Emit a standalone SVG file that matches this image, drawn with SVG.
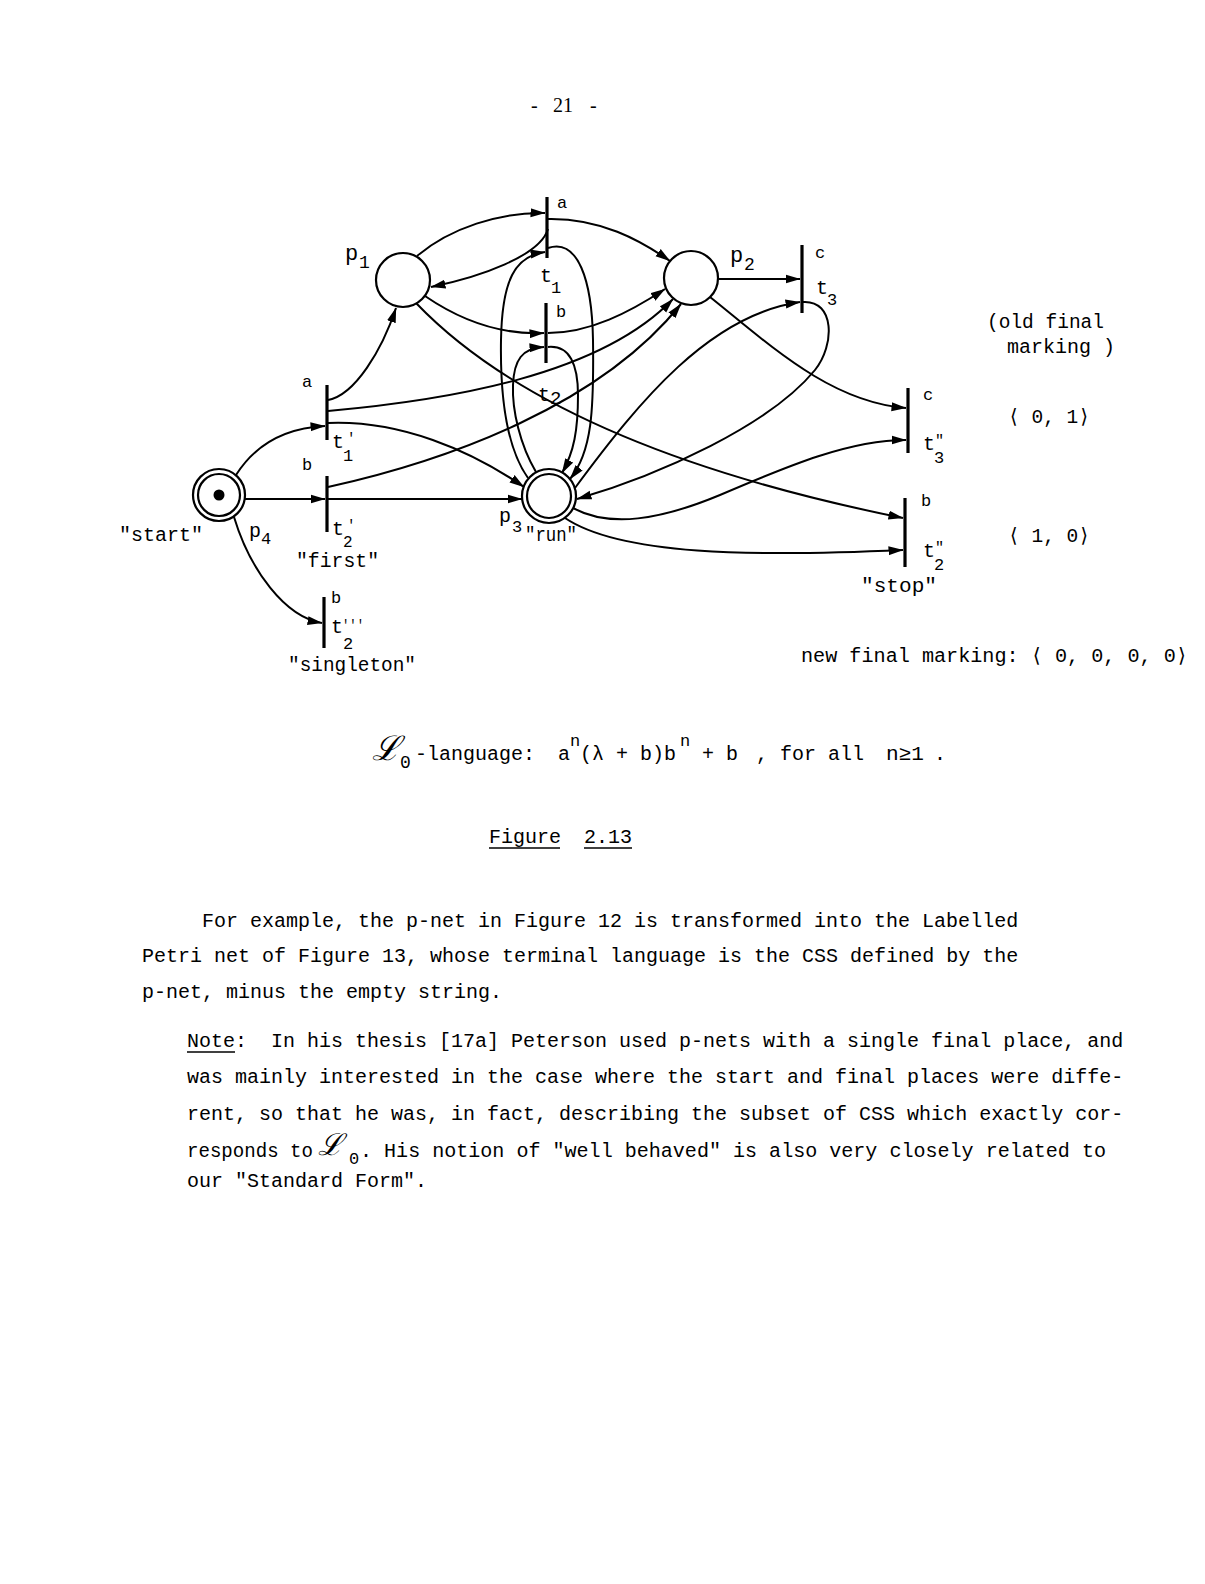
<svg xmlns="http://www.w3.org/2000/svg" width="1205" height="1584" viewBox="0 0 1205 1584">
<defs>
<marker id="ah" viewBox="0 0 15 10" refX="14.5" refY="5" markerWidth="15" markerHeight="10" markerUnits="userSpaceOnUse" orient="auto">
<path d="M0,0.5 L15,5 L0,9.5 z" fill="#000"/>
</marker>
<style>
.pl{fill:none;stroke:#000;stroke-width:2.2}
.tr{stroke:#000;stroke-width:3.2}
.c path{fill:none;stroke:#000;stroke-width:2;marker-end:url(#ah)}
text{font-family:"Liberation Mono","DejaVu Sans Mono",monospace;fill:#000}
.lb{font-size:17px}
.tl{font-size:20px}
.q{font-size:20px}
.body{font-size:20px}
.ser{font-family:"Liberation Serif","DejaVu Serif",serif;font-size:20px}
.scr{font-family:"DejaVu Serif","Liberation Serif",serif;font-style:italic;font-size:34px}
</style>
</defs>
<rect width="1205" height="1584" fill="#fff"/>

<g id="page-number">
<text class="ser" x="531" y="112">-</text>
<text class="ser" x="553" y="112">21</text>
<text class="ser" x="590" y="112">-</text>
</g>

<g id="connectors" class="c">
<path d="M236,475 C255,445 285,428 325,426"/>
<path d="M245,499 L325,499"/>
<path d="M234,517 C250,570 285,617 322,623"/>
<path d="M328,400 C355,395 382,350 396,308"/>
<path d="M328,411 C450,400 600,375 673,299"/>
<path d="M328,423 C400,420 470,450 524,487"/>
<path d="M328,499 L522,499"/>
<path d="M328,487 C450,460 600,405 681,304"/>
<path d="M417,256 C450,228 500,212 545,213"/>
<path d="M548,229 C540,256 480,277 431,287"/>
<path d="M548,219 C600,218 640,240 670,261"/>
<path d="M425,296 C460,320 500,335 544,333"/>
<path d="M548,333 C590,333 630,312 665,289"/>
<path d="M416,303 Q555,448 903,518"/>
<path d="M528,478 C508,450 500,400 501,340 C502,280 515,256 545,252"/>
<path d="M548,248 C578,238 592,280 593,340 C594,410 592,452 570,479"/>
<path d="M536,472 C520,445 512,410 513,385 C514,360 522,348 544,347"/>
<path d="M548,347 C570,345 578,365 578,395 C578,430 574,452 562,473"/>
<path d="M719,279 L800,279"/>
<path d="M575,488 C640,400 710,315 800,302"/>
<path d="M803,302 C835,300 835,345 815,370 C770,425 660,475 577,499"/>
<path d="M710,297 C770,345 830,402 906,408"/>
<path d="M573,508 C610,528 660,520 720,495 C790,465 850,440 906,440"/>
<path d="M565,518 C620,555 750,557 903,550"/>
</g>

<g id="p1">
<circle class="pl" cx="403" cy="280" r="27"/>
<text x="345" y="260" style="font-size:22px">p<tspan x="359" y="268" style="font-size:18px">1</tspan></text>
</g>
<g id="p2">
<circle class="pl" cx="691" cy="278" r="27"/>
<text x="730" y="262" style="font-size:22px">p<tspan x="744" y="270" style="font-size:18px">2</tspan></text>
</g>
<g id="p3">
<circle class="pl" cx="549" cy="496" r="27"/>
<circle class="pl" cx="549" cy="496" r="22"/>
<text class="tl" x="499" y="522">p<tspan x="512" y="532" style="font-size:17px">3</tspan></text>
<text class="q" x="525" y="541" textLength="52" lengthAdjust="spacingAndGlyphs">"run"</text>
</g>
<g id="p4">
<circle class="pl" cx="219" cy="495" r="26"/>
<circle class="pl" cx="219" cy="495" r="21"/>
<circle cx="219" cy="495" r="5.5" fill="#000"/>
<text class="tl" x="249" y="537">p<tspan x="261" y="544" style="font-size:17px">4</tspan></text>
<text class="q" x="119" y="541" textLength="84" lengthAdjust="spacingAndGlyphs">"start"</text>
</g>

<g id="t1">
<line class="tr" x1="547" y1="197" x2="547" y2="258"/>
<text class="lb" x="557" y="208">a</text>
<text class="tl" x="540" y="282">t<tspan x="551" y="293" style="font-size:17px">1</tspan></text>
</g>
<g id="t2">
<line class="tr" x1="546" y1="303" x2="546" y2="363"/>
<text class="lb" x="556" y="317">b</text>
<text class="tl" x="538" y="401">t<tspan x="550" y="404" style="font-size:19px">2</tspan></text>
</g>
<g id="t3">
<line class="tr" x1="802" y1="245" x2="802" y2="313"/>
<text class="lb" x="815" y="258">c</text>
<text class="tl" x="816" y="294">t<tspan x="827" y="305" style="font-size:17px">3</tspan></text>
</g>
<g id="t1p">
<line class="tr" x1="327" y1="385" x2="327" y2="440"/>
<text class="lb" x="302" y="387">a</text>
<text class="tl" x="332" y="448">t<tspan x="347" y="443" style="font-size:14px">'</tspan><tspan x="343" y="461" style="font-size:17px">1</tspan></text>
</g>
<g id="t2p">
<line class="tr" x1="327" y1="476" x2="327" y2="532"/>
<text class="lb" x="302" y="470">b</text>
<text class="tl" x="332" y="535">t<tspan x="347" y="530" style="font-size:14px">'</tspan><tspan x="343" y="547" style="font-size:16px">2</tspan></text>
<text class="q" x="296" y="567" textLength="83" lengthAdjust="spacingAndGlyphs">"first"</text>
</g>
<g id="t2ppp">
<line class="tr" x1="324" y1="597" x2="324" y2="648"/>
<text class="lb" x="331" y="603">b</text>
<text class="tl" x="331" y="633">t<tspan x="342" y="630" style="font-size:14px" textLength="22" lengthAdjust="spacingAndGlyphs">'''</tspan><tspan x="343" y="649" style="font-size:17px">2</tspan></text>
<text class="q" x="288" y="671" textLength="128" lengthAdjust="spacingAndGlyphs">"singleton"</text>
</g>
<g id="t3pp">
<line class="tr" x1="908" y1="388" x2="908" y2="453"/>
<text class="lb" x="923" y="400">c</text>
<text class="tl" x="923" y="450">t<tspan x="935" y="445" style="font-size:15px">"</tspan><tspan x="934" y="463" style="font-size:17px">3</tspan></text>
</g>
<g id="t2pp">
<line class="tr" x1="905" y1="498" x2="905" y2="567"/>
<text class="lb" x="921" y="506">b</text>
<text class="tl" x="923" y="557">t<tspan x="935" y="552" style="font-size:15px">"</tspan><tspan x="934" y="570" style="font-size:17px">2</tspan></text>
<text class="q" x="861" y="592" textLength="76" lengthAdjust="spacingAndGlyphs">"stop"</text>
</g>

<g id="markings">
<text class="body" x="987" y="328" textLength="117" lengthAdjust="spacingAndGlyphs">(old final</text>
<text class="body" x="1007" y="353" textLength="108" lengthAdjust="spacingAndGlyphs">marking )</text>
<text class="body" x="1008" y="423" textLength="82" lengthAdjust="spacingAndGlyphs">⟨ 0, 1⟩</text>
<text class="body" x="1008" y="542" textLength="82" lengthAdjust="spacingAndGlyphs">⟨ 1, 0⟩</text>
<text class="body" x="801" y="662" textLength="387" lengthAdjust="spacingAndGlyphs">new final marking: ⟨ 0, 0, 0, 0⟩</text>
</g>

<g id="language">
<text class="scr" x="372" y="760">ℒ</text>
<text class="body" x="400" y="768" style="font-size:18px">0</text>
<text class="body" x="415" y="760">-language:</text>
<text class="body" x="558" y="760">a</text>
<text class="body" x="570" y="746" style="font-size:17px">n</text>
<text class="body" x="580" y="760">(λ + b)b</text>
<text class="body" x="680" y="746" style="font-size:17px">n</text>
<text class="body" x="702" y="760">+ b</text>
<text class="body" x="756" y="760">,</text>
<text class="body" x="780" y="760">for all</text>
<text class="body" x="886" y="760" textLength="38" lengthAdjust="spacingAndGlyphs">n≥1</text>
<text class="body" x="934" y="760">.</text>
</g>

<g id="caption">
<text class="body" x="489" y="843">Figure</text>
<text class="body" x="584" y="843">2.13</text>
<line x1="489" y1="848" x2="560" y2="848" stroke="#000" stroke-width="1.5"/>
<line x1="584" y1="848" x2="632" y2="848" stroke="#000" stroke-width="1.5"/>
</g>

<g id="paragraph1">
<text class="body" x="202" y="927">For example, the p-net in Figure 12 is transformed into the Labelled</text>
<text class="body" x="142" y="962">Petri net of Figure 13, whose terminal language is the CSS defined by the</text>
<text class="body" x="142" y="998">p-net, minus the empty string.</text>
</g>

<g id="paragraph2">
<text class="body" x="187" y="1047" xml:space="preserve">Note:  In his thesis [17a] Peterson used p-nets with a single final place, and</text>
<line x1="187" y1="1052" x2="235" y2="1052" stroke="#000" stroke-width="1.5"/>
<text class="body" x="187" y="1083">was mainly interested in the case where the start and final places were diffe-</text>
<text class="body" x="187" y="1120">rent, so that he was, in fact, describing the subset of CSS which exactly cor-</text>
<text class="body" x="187" y="1157" textLength="126" lengthAdjust="spacingAndGlyphs">responds to</text>
<text class="scr" x="318" y="1155" style="font-size:30px">ℒ</text>
<text class="body" x="349" y="1164" style="font-size:17px">0</text>
<text class="body" x="360" y="1157" textLength="746" lengthAdjust="spacingAndGlyphs">. His notion of "well behaved" is also very closely related to</text>
<text class="body" x="187" y="1187">our "Standard Form".</text>
</g>
</svg>
